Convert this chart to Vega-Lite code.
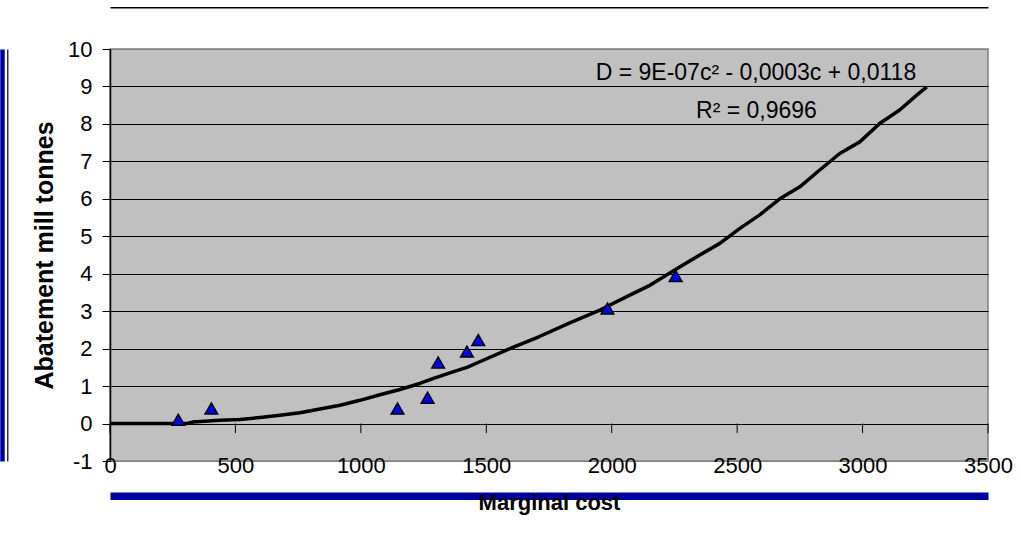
{
  "$schema": "https://vega.github.io/schema/vega-lite/v6.json",
  "width": 878,
  "height": 412,
  "autosize": {"type": "none"},
  "padding": {"left": 110, "top": 49, "right": 33, "bottom": 84},
  "background": "white",
  "config": {
    "font": "Liberation Sans",
    "view": {"fill": "#C0C0C0", "stroke": "#808080", "strokeWidth": 1.5}
  },
  "datasets": {
    "points": [
      {"cost": 272, "abatement": 0.10},
      {"cost": 404, "abatement": 0.40},
      {"cost": 1146, "abatement": 0.40},
      {"cost": 1266, "abatement": 0.69},
      {"cost": 1308, "abatement": 1.63},
      {"cost": 1423, "abatement": 1.92},
      {"cost": 1468, "abatement": 2.23},
      {"cost": 1983, "abatement": 3.07},
      {"cost": 2255, "abatement": 3.94}
    ],
    "curve": [
      {"cost": 0, "abatement": 0},
      {"cost": 150, "abatement": 0},
      {"cost": 307, "abatement": 0},
      {"cost": 331, "abatement": 0.04},
      {"cost": 438, "abatement": 0.09},
      {"cost": 518, "abatement": 0.11},
      {"cost": 598, "abatement": 0.16},
      {"cost": 677, "abatement": 0.22},
      {"cost": 757, "abatement": 0.29},
      {"cost": 837, "abatement": 0.39},
      {"cost": 917, "abatement": 0.49},
      {"cost": 996, "abatement": 0.62},
      {"cost": 1076, "abatement": 0.77},
      {"cost": 1156, "abatement": 0.91},
      {"cost": 1235, "abatement": 1.07},
      {"cost": 1287, "abatement": 1.20},
      {"cost": 1367, "abatement": 1.38},
      {"cost": 1423, "abatement": 1.50},
      {"cost": 1474, "abatement": 1.65},
      {"cost": 1594, "abatement": 2.00},
      {"cost": 1714, "abatement": 2.33},
      {"cost": 1833, "abatement": 2.69},
      {"cost": 1953, "abatement": 3.03},
      {"cost": 2072, "abatement": 3.43},
      {"cost": 2152, "abatement": 3.69},
      {"cost": 2271, "abatement": 4.18},
      {"cost": 2351, "abatement": 4.50},
      {"cost": 2431, "abatement": 4.81},
      {"cost": 2511, "abatement": 5.21},
      {"cost": 2590, "abatement": 5.57},
      {"cost": 2670, "abatement": 6.00},
      {"cost": 2750, "abatement": 6.32},
      {"cost": 2829, "abatement": 6.77},
      {"cost": 2909, "abatement": 7.21},
      {"cost": 2989, "abatement": 7.52},
      {"cost": 3068, "abatement": 8.01},
      {"cost": 3148, "abatement": 8.37},
      {"cost": 3216, "abatement": 8.77},
      {"cost": 3256, "abatement": 8.99}
    ],
    "xticks": [
      {"cost": 0}, {"cost": 500}, {"cost": 1000}, {"cost": 1500},
      {"cost": 2000}, {"cost": 2500}, {"cost": 3000}, {"cost": 3500}
    ]
  },
  "layer": [
    {
      "data": {"name": "xticks"},
      "mark": {"type": "rule", "color": "black", "strokeWidth": 1},
      "encoding": {
        "x": {
          "field": "cost", "type": "quantitative",
          "scale": {"domain": [0, 3500], "nice": false, "zero": false},
          "axis": {
            "orient": "bottom", "domain": false, "ticks": false, "grid": false,
            "labelFontSize": 22, "labelColor": "black", "labelBaseline": "alphabetic",
            "labelPadding": 11, "labelFlush": false, "labelOverlap": false,
            "labelExpr": "datum.value + ''",
            "values": [0, 500, 1000, 1500, 2000, 2500, 3000, 3500], "title": null
          }
        },
        "y": {
          "datum": 0, "type": "quantitative",
          "scale": {"domain": [-1, 10], "nice": false, "zero": false},
          "axis": {
            "values": [-1, 0, 1, 2, 3, 4, 5, 6, 7, 8, 9, 10],
            "grid": true,
            "gridColor": {"condition": {"test": "datum.value == 10 || datum.value == -1", "value": "#808080"}, "value": "black"},
            "gridWidth": 1,
            "domain": true, "domainColor": "black", "domainWidth": 1.5,
            "ticks": true, "tickSize": 8, "tickColor": "black", "tickWidth": 1,
            "labelFontSize": 22, "labelColor": "black", "labelPadding": 10,
            "labelExpr": "datum.value + ''",
            "title": "Abatement mill tonnes", "titleFontSize": 25, "titleFontWeight": "bold",
            "titleColor": "black", "titlePadding": 10
          }
        },
        "y2": {"datum": -0.255}
      }
    },
    {
      "data": {"name": "curve"},
      "mark": {"type": "line", "color": "black", "strokeWidth": 3.5, "strokeJoin": "round"},
      "encoding": {
        "x": {
          "field": "cost", "type": "quantitative",
          "axis": {
            "orient": "top", "offset": 41.7, "domain": true, "domainColor": "black", "domainWidth": 1.5,
            "ticks": false, "labels": false, "grid": false, "title": null
          }
        },
        "y": {"field": "abatement", "type": "quantitative", "axis": null}
      }
    },
    {
      "data": {"name": "points"},
      "mark": {"type": "point", "shape": "triangle-up", "filled": true, "fill": "#0000FF", "stroke": "black", "strokeWidth": 1.5, "size": 160, "opacity": 1},
      "encoding": {
        "x": {"field": "cost", "type": "quantitative", "axis": null},
        "y": {
          "field": "abatement", "type": "quantitative",
          "axis": {
            "orient": "left", "offset": 102.7, "domain": true, "domainColor": "black", "domainWidth": 1.2,
            "ticks": false, "labels": false, "grid": false, "title": null
          }
        }
      }
    },
    {
      "data": {"values": [{"label": "D = 9E-07c² - 0,0003c + 0,0118"}]},
      "mark": {"type": "text", "fontSize": 23, "color": "black", "align": "center", "baseline": "alphabetic"},
      "encoding": {
        "text": {"field": "label"},
        "x": {
          "datum": 2575, "type": "quantitative",
          "axis": {
            "orient": "bottom", "offset": 34.8, "domain": true, "domainColor": "#0000A0", "domainWidth": 7.5,
            "ticks": false, "labels": false, "grid": false,
            "title": "Marginal cost", "titleFontSize": 22, "titleFontWeight": "bold", "titleColor": "black",
            "titleBaseline": "alphabetic", "titlePadding": 14
          }
        },
        "y": {
          "datum": 9.17, "type": "quantitative",
          "axis": {
            "orient": "left", "offset": 108, "domain": true, "domainColor": "#0000A0", "domainWidth": 4.5,
            "ticks": false, "labels": false, "grid": false, "title": null
          }
        }
      }
    },
    {
      "data": {"values": [{"label": "R² = 0,9696"}]},
      "mark": {"type": "text", "fontSize": 23, "color": "black", "align": "center", "baseline": "alphabetic"},
      "encoding": {
        "text": {"field": "label"},
        "x": {"datum": 2577, "type": "quantitative", "axis": null},
        "y": {"datum": 8.15, "type": "quantitative", "axis": null}
      }
    }
  ],
  "resolve": {"axis": {"x": "independent", "y": "independent"}}
}
